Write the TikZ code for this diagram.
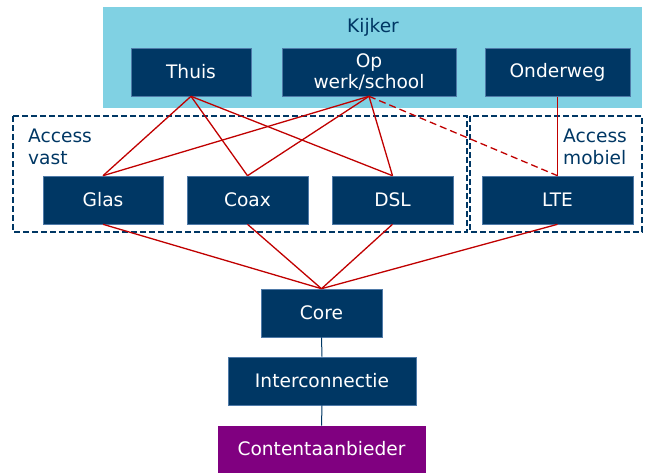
\documentclass[tikz,border=0pt]{standalone}
\usepackage{fontspec}
\setmainfont{DejaVu Sans}
\definecolor{navy}{HTML}{003764}
\definecolor{navyedge}{HTML}{4F7AA8}
\definecolor{sky}{HTML}{80D1E3}
\definecolor{plum}{HTML}{800080}
\definecolor{wire}{HTML}{C00000}
\begin{document}
\begin{tikzpicture}[x=1pt,y=-1pt,
  box/.style={fill=navy, draw=navyedge, line width=0.6pt, text=white,
    minimum height=48, inner sep=0pt, align=center,
    font=\fontsize{18.6}{21}\selectfont},
  label/.style={text=navy, inner sep=0pt, align=left,
    font=\fontsize{18.6}{22}\selectfont},
  zone/.style={draw=navy, line width=1.8pt, dash pattern=on 6pt off 3pt},
  link/.style={draw=wire, line width=1.3pt},
  trunk/.style={draw=navy, line width=1pt}]
\useasboundingbox (0,0) rectangle (646,472);

% viewer area
\fill[sky] (103,7) rectangle (642,108);
\node[label, anchor=center] (kijker) at (373,27) {Kijker};

% access zones
\draw[zone] (13,116) rectangle (467,232);
\draw[zone] (470,116) rectangle (642,232);
\node[label, anchor=north west] (vast) at (28,129) {Access\\vast};
\node[label, anchor=north west] (mobiel) at (563,129) {Access\\mobiel};

% locations
\node[box, minimum width=120] (thuis) at (191,72) {Thuis};
\node[box, minimum width=174] (werk) at (369,72) {Op\\werk/school};
\node[box, minimum width=145] (onder) at (557.5,72.5) {Onderweg};

% access technologies
\node[box, minimum width=120] (glas) at (103,200) {Glas};
\node[box, minimum width=121] (coax) at (247.5,200) {Coax};
\node[box, minimum width=121] (dsl) at (392.5,200) {DSL};
\node[box, minimum width=151] (lte) at (557.5,200) {LTE};

% backbone
\node[box, minimum width=121] (core) at (321.5,313) {Core};
\node[box, minimum width=188] (inter) at (322,381) {Interconnectie};
\node[box, minimum width=207, minimum height=46, fill=plum, draw=plum] (content) at (321.5,449) {Contentaanbieder};

% connections
\foreach \t in {glas,coax,dsl} {
  \draw[link] (thuis.south) -- (\t.north);
  \draw[link] (werk.south) -- (\t.north);
}
\draw[link, dash pattern=on 7pt off 4pt] (werk.south) -- (lte.north);
\draw[link] (onder.south) -- (lte.north);
\foreach \t in {glas,coax,dsl,lte}
  \draw[link] (\t.south) -- (core.north);
\draw[trunk] (core.south) -- (inter.north);
\draw[trunk] (inter.south) -- (content.north);
\end{tikzpicture}
\end{document}
